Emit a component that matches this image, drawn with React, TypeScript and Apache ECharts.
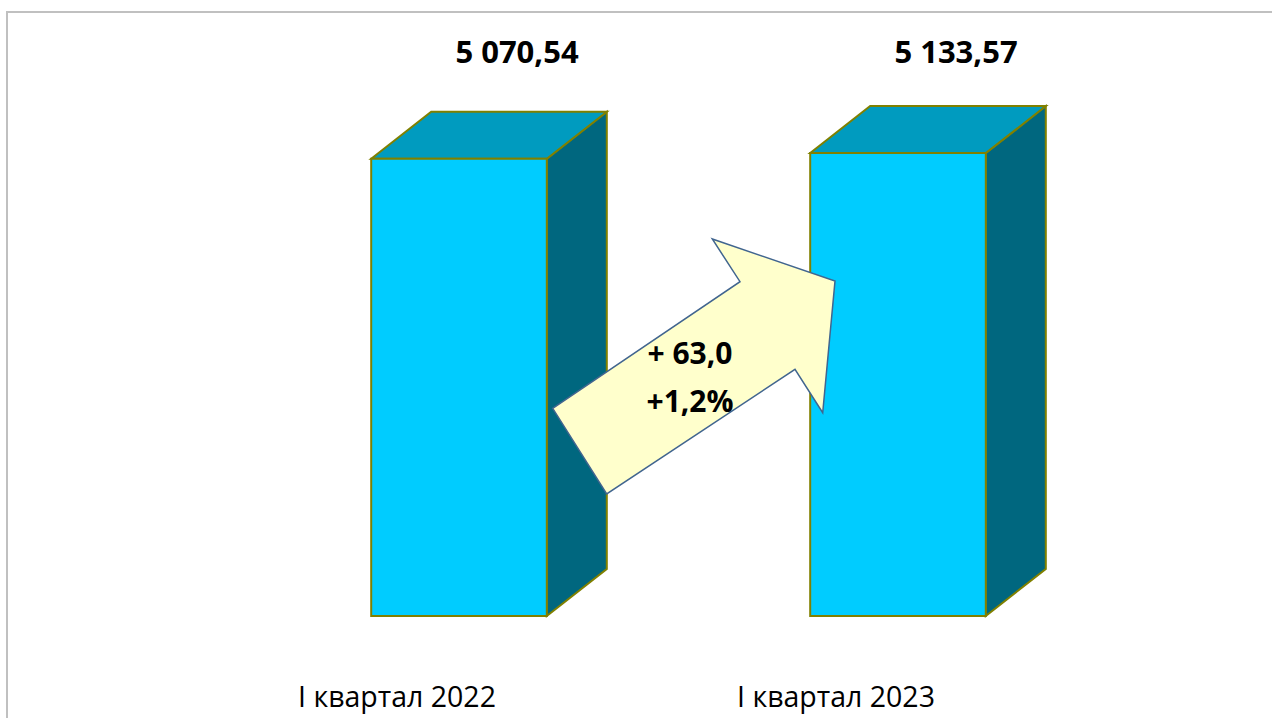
import React, { useEffect, useRef } from "react";
import * as echarts from "echarts";

const categories = ["I квартал 2022", "I квартал 2023"];
const values = [5070.54, 5133.57];
const yMax = 5700;

function fmtNum(v: number, digits: number): string {
  const [intPart, dec] = v.toFixed(digits).split(".");
  const withSpaces = intPart.replace(/\B(?=(\d{3})+(?!\d))/g, " ");
  return dec ? `${withSpaces},${dec}` : withSpaces;
}

const diff = values[1] - values[0];
const pct = (diff / values[0]) * 100;
const diffLabel = `+ ${fmtNum(diff, 1)}`;
const pctLabel = `+${fmtNum(pct, 1)}%`;

export default function App() {
  const ref = useRef<HTMLDivElement>(null);

  useEffect(() => {
    document.body.style.margin = "0";
    if (!ref.current) return;
    const chart = echarts.init(ref.current, undefined, { renderer: "svg" });

    const depthX = 60;
    const depthY = -47;
    const edge = "#808000";

    const option: any = {
      animation: false,
      backgroundColor: "#ffffff",
      grid: { left: 239.5, right: 154.5, top: 102, bottom: 102 },
      xAxis: {
        type: "category",
        data: categories,
        axisLine: { show: false },
        axisTick: { show: false },
        axisLabel: {
          margin: 65,
          fontFamily: "Open Sans",
          fontSize: 28.5,
          color: "#000000",
          padding: [0, 124, 0, 0],
        },
      },
      yAxis: { type: "value", min: 0, max: yMax, show: false },
      series: [
        {
          type: "custom",
          clip: false,
          data: values.map((v, i) => [i, v]),
          renderItem: (params: any, api: any) => {
            const i = api.value(0);
            const v = api.value(1);
            const top = api.coord([i, v]);
            const base = api.coord([i, 0]);
            const bw = api.size([1, 0])[0] * 0.4;
            const l = top[0] - bw / 2;
            const r = top[0] + bw / 2;
            const ty = top[1];
            const by = base[1];
            return {
              type: "group",
              children: [
                {
                  type: "polygon",
                  shape: {
                    points: [
                      [r, ty],
                      [r + depthX, ty + depthY],
                      [r + depthX, by + depthY],
                      [r, by],
                    ],
                  },
                  style: { fill: "#00677f", stroke: edge, lineWidth: 2 },
                },
                {
                  type: "polygon",
                  shape: {
                    points: [
                      [l, ty],
                      [l + depthX, ty + depthY],
                      [r + depthX, ty + depthY],
                      [r, ty],
                    ],
                  },
                  style: { fill: "#009bbf", stroke: edge, lineWidth: 2 },
                },
                {
                  type: "rect",
                  shape: { x: l, y: ty, width: bw, height: by - ty },
                  style: { fill: "#00ccff", stroke: edge, lineWidth: 2 },
                },
                {
                  type: "text",
                  x: top[0] + 58,
                  y: 51,
                  style: {
                    text: fmtNum(v, 2),
                    fill: "#000000",
                    fontFamily: "Open Sans",
                    fontWeight: "bold",
                    fontSize: 31,
                    align: "center",
                    verticalAlign: "middle",
                  },
                },
              ],
            };
          },
        },
      ],
      graphic: [
        {
          type: "rect",
          shape: { x: 7, y: 12, width: 1300, height: 760 },
          style: { fill: "none", stroke: "#c0c0c0", lineWidth: 2 },
          z: 1,
        },
        {
          type: "polygon",
          z: 100,
          shape: {
            points: [
              [552.7, 408.3],
              [740, 281.7],
              [712.3, 239],
              [835, 281],
              [822.7, 412.7],
              [795, 369.3],
              [606.7, 494],
            ],
          },
          style: { fill: "#ffffcc", stroke: "#41658f", lineWidth: 1.5 },
        },
        {
          type: "text",
          z: 101,
          x: 690,
          y: 352,
          style: {
            text: diffLabel,
            fill: "#000000",
            fontFamily: "Open Sans",
            fontWeight: "bold",
            fontSize: 30,
            align: "center",
            verticalAlign: "middle",
          },
        },
        {
          type: "text",
          z: 101,
          x: 690,
          y: 400,
          style: {
            text: pctLabel,
            fill: "#000000",
            fontFamily: "Open Sans",
            fontWeight: "bold",
            fontSize: 30,
            align: "center",
            verticalAlign: "middle",
          },
        },
      ],
    };

    chart.setOption(option);
    return () => chart.dispose();
  }, []);

  return <div ref={ref} style={{ width: 1272, height: 718 }} />;
}
